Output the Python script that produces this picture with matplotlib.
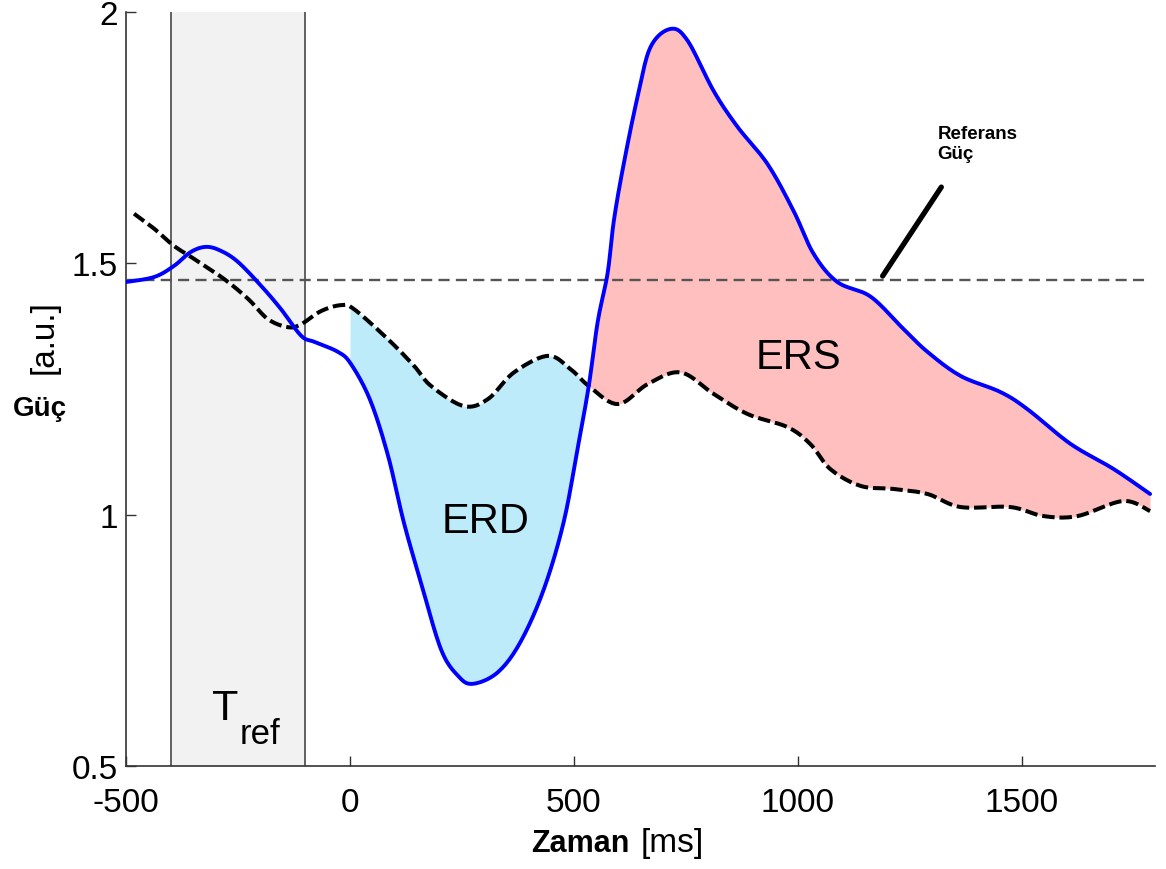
import numpy as np
import matplotlib
matplotlib.use("Agg")
import matplotlib.pyplot as plt

plt.rcParams['font.family'] = ['Liberation Sans', 'DejaVu Sans']
plt.rcParams['lines.scale_dashes'] = False

# ---- data ----
blue_t = [-500, -437, -393, -355, -321, -288, -250, -198, -154, -109, -80, -27, 2, 45,
          85, 120, 158, 203, 241, 274, 330, 381, 433, 477, 508, 533, 553, 575, 589, 611,
          642, 671, 716, 754, 812, 865, 932, 990, 1035, 1088, 1162, 1235, 1289, 1363,
          1452, 1512, 1608, 1704, 1786]
blue_p = [1.463, 1.473, 1.495, 1.523, 1.533, 1.525, 1.503, 1.455, 1.409, 1.356, 1.344, 1.324,
          1.300, 1.228, 1.117, 0.985, 0.866, 0.732, 0.679, 0.663, 0.686, 0.747, 0.852,
          0.985, 1.131, 1.256, 1.384, 1.480, 1.585, 1.698, 1.832, 1.931, 1.967, 1.943, 1.843,
          1.772, 1.698, 1.605, 1.519, 1.463, 1.434, 1.370, 1.324, 1.276, 1.244, 1.210, 1.141,
          1.091, 1.041]

ref_t = [-482, -437, -393, -348, -281, -227, -183, -138, -109, -65, -20, 9, 85, 143, 181,
         254, 308, 366, 442, 493, 533, 598, 665, 738, 812, 888, 977, 1028, 1073, 1140, 1213,
         1289, 1363, 1474, 1548, 1624, 1726, 1786]
ref_p = [1.599, 1.569, 1.535, 1.509, 1.469, 1.429, 1.389, 1.373, 1.379, 1.405, 1.417, 1.409,
         1.349, 1.296, 1.256, 1.216, 1.230, 1.283, 1.316, 1.289, 1.256, 1.220, 1.260, 1.283,
         1.240, 1.200, 1.174, 1.140, 1.090, 1.057, 1.051, 1.041, 1.015, 1.015, 0.997, 0.997,
         1.027, 1.007]

reference_power = 1.467
tref_window = [-400, -100]
erd_start = 0

x_ticks = [-500, 0, 500, 1000, 1500]
y_ticks = [0.5, 1, 1.5, 2]
y_ticklabels = ['0.5', '1', '1.5', '2']


def catmull_rom(x, y, n=12):
    x = np.asarray(x, float)
    y = np.asarray(y, float)
    P = np.column_stack([x, y])
    P = np.vstack([P[0], P, P[-1]])
    out = []
    for i in range(1, len(P) - 2):
        p0, p1, p2, p3 = P[i - 1], P[i], P[i + 1], P[i + 2]
        t = np.linspace(0, 1, n, endpoint=False)[:, None]
        c = 0.5 * ((2 * p1) + (-p0 + p2) * t + (2 * p0 - 5 * p1 + 4 * p2 - p3) * t ** 2
                   + (-p0 + 3 * p1 - 3 * p2 + p3) * t ** 3)
        out.append(c)
    out.append(P[-2][None, :])
    out = np.vstack(out)
    return out[:, 0], out[:, 1]


bx, by = catmull_rom(blue_t, blue_p)
rx, ry = catmull_rom(ref_t, ref_p)

fig = plt.figure(figsize=(11.66, 8.70), dpi=100)
ax = fig.add_axes([126 / 1166, 1 - 766.7 / 870, (1155 - 126) / 1166, (766.7 - 13.3) / 870])

ax.set_xlim(-500, 1797)
ax.set_ylim(0.5, 2)

# T_ref window
ax.axvspan(tref_window[0], tref_window[1], color='#F2F2F2', zorder=0, lw=0)
for xv in tref_window:
    ax.axvline(xv, color='#555555', lw=1.3, zorder=1)

# fills on common grid
g = np.linspace(max(bx.min(), rx.min()), min(bx.max(), rx.max()), 3000)
gb = np.interp(g, bx, by)
gr = np.interp(g, rx, ry)
ax.fill_between(g, gb, gr, where=(g >= erd_start) & (gb <= gr), color='#BDEBFA', lw=0,
                interpolate=True, zorder=2)
ax.fill_between(g, gb, gr, where=(g >= 400) & (gb >= gr), color='#FFBFBF', lw=0,
                interpolate=True, zorder=2)

# reference power line
ax.plot([-500, 1785], [reference_power, reference_power], color='#555555', lw=1.7,
        dashes=(8, 4.5), zorder=3)

# curves
ax.plot(rx, ry, color='black', lw=2.9, dashes=(9, 3.5), zorder=4)
ax.plot(bx, by, color='#0000FF', lw=2.8, zorder=5, solid_capstyle='round')

# annotation for reference power
ax.plot([1189, 1320], [1.475, 1.652], color='black', lw=3.8, solid_capstyle='round', zorder=6)
ax.text(1312, 1.776, 'Referans\nGüç', fontsize=13.5, fontweight='bold', ha='left', va='top',
        linespacing=1.25)

ax.text(303, 0.987, 'ERD', fontsize=30, ha='center', va='center')
ax.text(1000, 1.313, 'ERS', fontsize=30, ha='center', va='center')

# T_ref label
ax.text(-307, 0.593, 'T', fontsize=31, ha='left', va='baseline')
ax.text(-246, 0.545, 'ref', fontsize=25, ha='left', va='baseline')

# axes styling
for s in ['top', 'right']:
    ax.spines[s].set_visible(False)
for s in ['left', 'bottom']:
    ax.spines[s].set_color('#333333')
    ax.spines[s].set_linewidth(1.2)
ax.set_xticks(x_ticks)
ax.set_xticklabels([str(v) for v in x_ticks])
ax.set_yticks(y_ticks)
ax.set_yticklabels(y_ticklabels)
ax.tick_params(axis='both', direction='in', length=7, width=1, color='#333333', labelsize=24)
ax.tick_params(axis='x', pad=15)
ax.tick_params(axis='y', pad=6)

# axis labels (mixed bold / regular)
fig.text(630 / 1166, 1 - 852 / 870, 'Zaman', fontsize=22, fontweight='bold', ha='right',
         va='baseline')
fig.text(641 / 1166, 1 - 852 / 870, '[ms]', fontsize=24, ha='left', va='baseline')
fig.text(44 / 1166, 1 - 337 / 870, '[a.u.]', fontsize=24, rotation=90, ha='center', va='center')
fig.text(40 / 1166, 1 - 409 / 870, 'Güç', fontsize=20, fontweight='bold', ha='center',
         va='center')

fig.savefig('out.png', dpi=100)
